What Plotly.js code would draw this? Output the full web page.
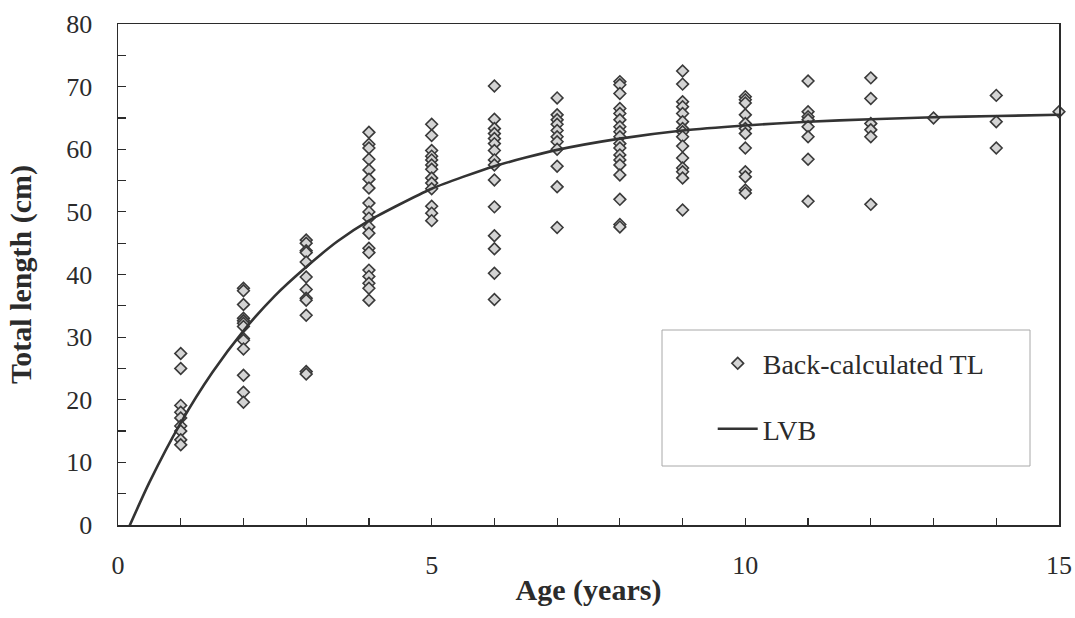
<!DOCTYPE html>
<html>
<head>
<meta charset="utf-8">
<script src="https://cdn.plot.ly/plotly-3.0.1.min.js"></script>
<style>html,body{margin:0;padding:0;background:#fff;}#chart{width:1075px;height:618px;}</style>
</head>
<body>
<div id="chart"></div>
<script>
// Back-calculated total length (cm) by age (years)
const ages = [1, 2, 3, 4, 5, 6, 7, 8, 9, 10, 11, 12, 13, 14, 15];
const tlByAge = [
  [27.4, 25.0, 19.1, 18.0, 17.1, 15.8, 15.0, 13.6, 12.8],
  [37.8, 37.4, 35.2, 33.0, 32.6, 32.2, 31.7, 29.8, 29.5, 28.1, 23.9, 21.2, 19.6],
  [45.5, 45.0, 43.8, 43.5, 42.0, 39.6, 37.6, 36.2, 35.9, 33.5, 24.5, 24.1],
  [62.7, 60.8, 60.2, 58.4, 56.7, 55.2, 53.8, 51.4, 50.0, 49.0, 47.6, 46.6, 44.2, 43.5, 40.7, 39.7, 38.6, 37.8, 35.9],
  [64.0, 62.2, 59.8, 58.9, 58.3, 57.5, 56.8, 55.4, 54.6, 53.7, 50.9, 49.8, 48.6],
  [70.1, 64.8, 63.3, 62.5, 61.7, 60.9, 59.8, 58.3, 57.5, 55.1, 50.8, 46.2, 44.1, 40.2, 36.0],
  [68.2, 65.5, 64.7, 64.0, 63.0, 62.0, 61.2, 60.0, 57.3, 54.0, 47.5],
  [70.8, 70.3, 68.9, 66.5, 65.7, 64.7, 63.6, 62.8, 62.0, 60.9, 60.2, 59.1, 58.3, 57.5, 55.9, 52.0, 48.0, 47.6],
  [72.5, 70.4, 67.6, 66.8, 65.7, 64.4, 63.3, 62.8, 62.0, 60.5, 58.6, 57.0, 56.4, 55.4, 50.3],
  [68.4, 67.9, 67.4, 65.5, 64.1, 63.3, 62.5, 60.2, 56.4, 55.6, 53.5, 53.0],
  [70.9, 66.0, 65.2, 64.7, 63.6, 62.0, 58.4, 51.7],
  [71.4, 68.1, 64.1, 63.1, 62.0, 51.2],
  [65.0],
  [68.6, 64.4, 60.2],
  [66.0]
];
// LVB growth curve
const lvbAge = [0.15, 0.5, 1, 1.5, 2, 2.5, 3, 3.5, 4, 5, 6, 7, 8, 9, 10, 11, 12, 13, 14, 15];
const lvbTL  = [-0.9, 6.8, 16.3, 24.3, 31.0, 36.6, 41.2, 45.3, 48.6, 53.7, 57.3, 59.9, 61.7, 63.0, 63.8, 64.4, 64.8, 65.1, 65.3, 65.5];

const xs = [], ys = [];
ages.forEach((a, i) => tlByAge[i].forEach(v => { xs.push(a); ys.push(v); }));

const serif = 'Liberation Serif, Times New Roman, serif';
const ink = '#2b2b2b';

const traces = [
  {
    type: 'scatter', mode: 'markers', name: 'Back-calculated TL',
    x: xs, y: ys, legendgroup: 'a', cliponaxis: false,
    marker: {symbol: 'diamond', size: 9, color: '#d4d4d4', line: {color: '#3a3a3a', width: 1.6}}
  },
  {
    type: 'scatter', mode: 'lines', name: 'LVB',
    x: lvbAge, y: lvbTL, legendgroup: 'b', cliponaxis: false,
    line: {color: '#333', width: 2.6, shape: 'spline', smoothing: 0.6}
  }
];

const layout = {
  width: 1075, height: 618,
  margin: {l: 118, r: 16, t: 24, b: 93, pad: 0},
  paper_bgcolor: '#fff', plot_bgcolor: '#fff',
  font: {family: serif, color: ink, size: 26},
  showlegend: true,
  legend: {
    x: 0.632, y: 0.372, xanchor: 'left', yanchor: 'top',
    bgcolor: 'rgba(0,0,0,0)', borderwidth: 0,
    font: {family: serif, size: 28, color: ink},
    traceorder: 'grouped', tracegroupgap: 26, itemwidth: 40
  },
  xaxis: {
    range: [0, 15], dtick: 5, tick0: 0,
    ticks: 'inside', ticklen: 7, tickwidth: 1.2, tickcolor: ink,
    minor: {dtick: 1, ticks: 'inside', ticklen: 7, tickwidth: 1.2, tickcolor: ink},
    showgrid: false, zeroline: false,
    showline: true, mirror: true, linecolor: ink, linewidth: 1.5,
    ticklabelstandoff: 16,
    tickfont: {family: serif, size: 26, color: ink},
    title: {text: '<b>Age (years)</b>', font: {family: serif, size: 30, color: ink}, standoff: 0}
  },
  yaxis: {
    range: [0, 80], dtick: 10, tick0: 0,
    ticks: 'inside', ticklen: 8, tickwidth: 1.2, tickcolor: ink,
    minor: {dtick: 5, ticks: 'inside', ticklen: 8, tickwidth: 1.2, tickcolor: ink},
    showgrid: false, zeroline: false,
    showline: true, mirror: true, linecolor: ink, linewidth: 1.5,
    ticklabelstandoff: 19,
    tickfont: {family: serif, size: 26, color: ink},
    title: {text: '<b>Total length (cm)</b>', font: {family: serif, size: 30, color: ink}, standoff: 26}
  },
  shapes: [{
    type: 'rect', xref: 'paper', yref: 'paper',
    x0: (662 - 118) / 941, x1: (1030 - 118) / 941,
    y0: (525 - 466) / 501, y1: (525 - 330) / 501,
    line: {color: '#a8a8a8', width: 1}, fillcolor: 'rgba(0,0,0,0)', layer: 'below'
  }]
};

Plotly.newPlot('chart', traces, layout, {displayModeBar: false, staticPlot: true});
</script>
</body>
</html>
